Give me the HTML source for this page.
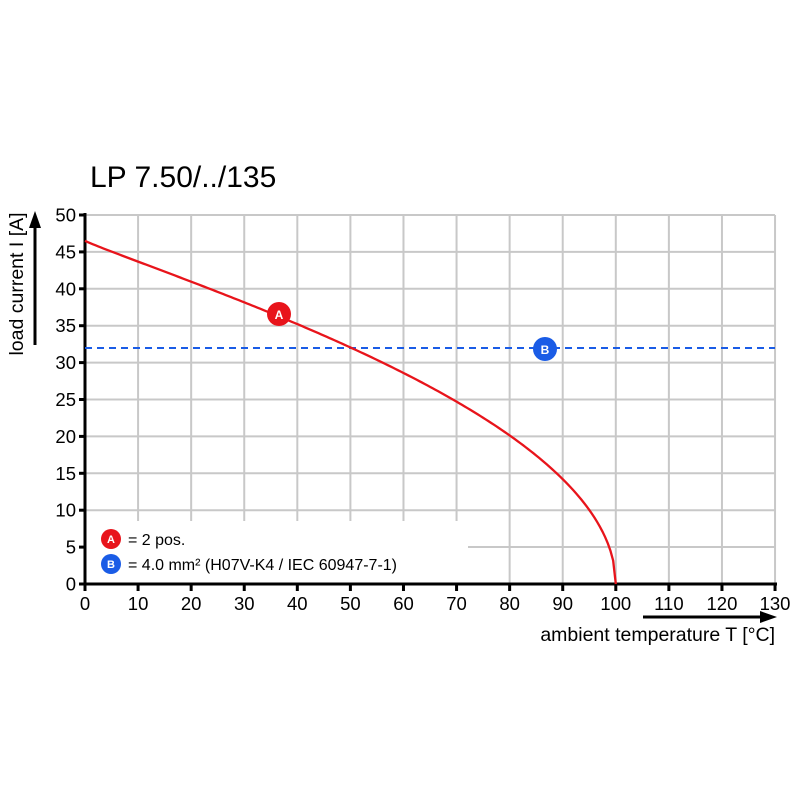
<!DOCTYPE html>
<html><head><meta charset="utf-8"><style>body{margin:0;background:#fff}svg{display:block}text{font-family:"Liberation Sans",Arial,sans-serif;fill:#000}</style></head>
<body>
<svg id="s" width="800" height="800" viewBox="0 0 800 800" xmlns="http://www.w3.org/2000/svg">
<text x="90" y="187" font-size="30">LP 7.50/../135</text>
<g id="grid" stroke="#c8c8c8" stroke-width="2"></g>
<rect x="95" y="521" width="373" height="56" fill="#fff"/>
<line x1="468" y1="547" x2="775" y2="547" stroke="#c8c8c8" stroke-width="2"/>
<g id="ticks" stroke="#000" stroke-width="3"></g>
<line x1="85" y1="213" x2="85" y2="585" stroke="#000" stroke-width="3"/>
<line x1="84" y1="584" x2="777" y2="584" stroke="#000" stroke-width="3"/>
<g id="lbl" font-size="18.5"></g>
<line x1="85" y1="348" x2="775" y2="348" stroke="#1a5ce6" stroke-width="2" stroke-dasharray="7,5"/>
<path id="curve" fill="none" stroke="#e8141b" stroke-width="2.3"/>
<circle cx="279" cy="314" r="12" fill="#e8141b"/><text x="279" y="319" font-size="12" font-weight="bold" text-anchor="middle" style="fill:#fff">A</text>
<circle cx="545" cy="349" r="12" fill="#1a5ce6"/><text x="545" y="354" font-size="12" font-weight="bold" text-anchor="middle" style="fill:#fff">B</text>
<circle cx="111" cy="539" r="10" fill="#e8141b"/><text x="111" y="543" font-size="11" font-weight="bold" text-anchor="middle" style="fill:#fff">A</text>
<circle cx="111" cy="564" r="10" fill="#1a5ce6"/><text x="111" y="568" font-size="11" font-weight="bold" text-anchor="middle" style="fill:#fff">B</text>
<text x="128" y="545" font-size="16">= 2 pos.</text>
<text x="128" y="570" font-size="16">= 4.0 mm² (H07V-K4 / IEC 60947-7-1)</text>
<line x1="35" y1="345" x2="35" y2="225" stroke="#000" stroke-width="3"/>
<polygon points="35,211 29,228 41,228" fill="#000"/>
<text transform="translate(23,284) rotate(-90)" font-size="19.5" text-anchor="middle">load current I [A]</text>
<line x1="643" y1="617" x2="762" y2="617" stroke="#000" stroke-width="3"/>
<polygon points="777,617 760,611 760,623" fill="#000"/>
<text x="775" y="641" font-size="19.5" text-anchor="end">ambient temperature T [°C]</text>
</svg>
<script>
var X=function(t){return 85+t*5.308},Y=function(v){return 584-v*7.38};
var g=document.getElementById('grid'),tk=document.getElementById('ticks'),lb=document.getElementById('lbl'),ns='http://www.w3.org/2000/svg';
function el(p,n,a,t){var e=document.createElementNS(ns,n);for(var k in a)e.setAttribute(k,a[k]);if(t!=null)e.textContent=t;p.appendChild(e);}
for(var i=1;i<=13;i++){el(g,'line',{x1:X(i*10),y1:215,x2:X(i*10),y2:i*10<=70?521:584});}
for(var j=2;j<=10;j++){el(g,'line',{x1:85,y1:Y(j*5),x2:775,y2:Y(j*5)});}
for(var i=0;i<=13;i++){el(tk,'line',{x1:X(i*10),y1:584,x2:X(i*10),y2:591});el(lb,'text',{x:X(i*10),y:610,'text-anchor':'middle'},i*10);}
for(var j=0;j<=10;j++){el(tk,'line',{x1:79,y1:Y(j*5),x2:85,y2:Y(j*5)});el(lb,'text',{x:76,y:Y(j*5)+6.5,'text-anchor':'end'},j*5);}
var d='';for(var t=0;t<=100;t+=0.5){var v=46.5*Math.sqrt(Math.max(0,1-Math.pow(t/100,0.93)));d+=(t?'L':'M')+X(t).toFixed(2)+','+Y(v).toFixed(2);}
document.getElementById('curve').setAttribute('d',d);
</script>
</body></html>
